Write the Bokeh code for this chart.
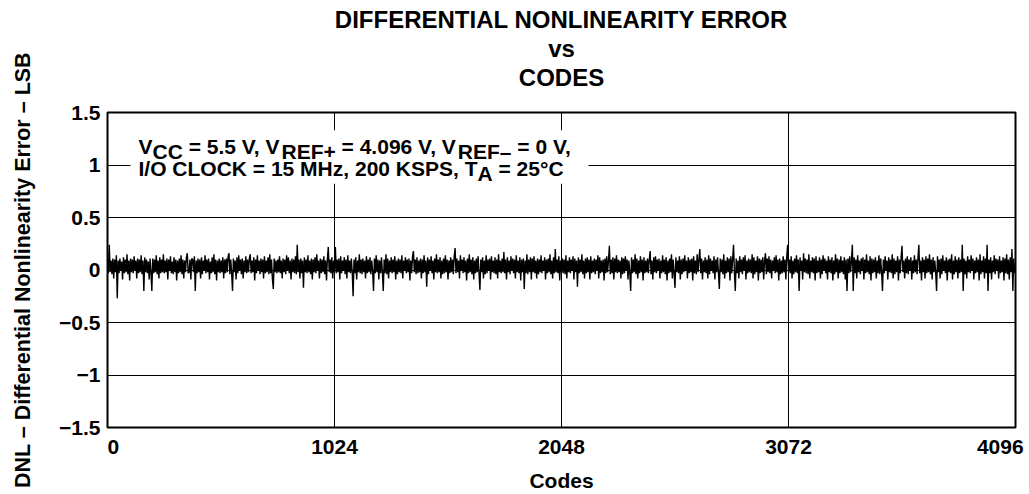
from bokeh.plotting import figure
from bokeh.models import FixedTicker, Label, BoxAnnotation, Range1d, Title
from bokeh.embed import file_html
from bokeh.resources import INLINE

# ---------------- data ----------------
TITLE_LINES = ["DIFFERENTIAL NONLINEARITY ERROR", "vs", "CODES"]
X_LABEL = "Codes"
Y_LABEL = "DNL \u2013 Differential Nonlinearity Error \u2013 LSB"
X_TICKS = [0, 1024, 2048, 3072, 4096]
X_TICK_LABELS = ["0", "1024", "2048", "3072", "4096"]
Y_TICKS = [-1.5, -1.0, -0.5, 0.0, 0.5, 1.0, 1.5]
Y_TICK_LABELS = ["\u22121.5", "\u22121", "\u22120.5", "0", "0.5", "1", "1.5"]
# annotation: (text, is_subscript)
NOTE_LINE_1 = [("V", 0), ("CC", 1), (" = 5.5 V, V", 0), ("REF+", 1),
               (" = 4.096 V, V", 0), ("REF\u2013", 1), (" = 0 V,", 0)]
NOTE_LINE_2 = [("I/O CLOCK = 15 MHz, 200 KSPS, T", 0), ("A", 1), (" = 25\u00b0C", 0)]

CODE_STEP = 4  # one plotted DNL sample every 4 codes
# DNL values in hundredths of an LSB, read/
DNL_CENTI_LSB = [
    10,-3,24,-2,9,-4,11,-8,10,-2,14,-27,9,-3,11,-1,8,-9,12,-3,10,-2,15,-4,9,-10,11,-2,10,-3,13,-1,
    9,-8,11,-3,10,-2,14,-4,9,-20,12,-2,10,-3,8,-9,11,-2,-20,11,-3,10,-2,14,-4,9,-8,12,-3,10,-2,15,
    -3,9,-2,11,-9,10,-1,13,-3,8,-4,12,-2,10,-10,9,-3,11,-2,14,-4,10,-8,9,-2,12,16,-3,-2,10,-9,11,
    10,-2,13,-20,9,-3,11,-2,10,-8,12,-4,9,-1,14,-3,10,-2,11,-9,8,-3,12,-2,15,-4,10,-10,9,-2,11,-3,
    9,-2,12,-8,10,-3,11,-2,13,16,-4,10,-3,-20,11,-2,9,-9,12,-3,14,-1,10,-4,11,-8,9,-2,13,-3,10,-2,
    11,15,-3,9,-2,12,-10,10,-3,14,-1,9,-4,11,-2,10,-8,13,-3,9,-2,12,-4,15,-3,10,-9,-18,11,-2,9,-3,
    10,-2,13,-3,9,-8,11,-2,10,-4,14,-1,12,-3,9,-9,11,-2,10,-3,13,-4,24,-2,10,-8,11,-3,9,-17,12,-2,
    10,-3,14,-2,9,-4,11,-9,10,-2,12,-3,15,-1,9,-8,11,-3,10,-2,13,-4,9,-10,11,22,-2,10,-3,12,-8,9,
    -2,22,-3,10,-2,11,-9,13,-3,9,-1,12,-4,10,-8,14,-2,9,-3,11,-2,-25,10,-3,12,-9,9,-2,15,-3,10,-4,
    11,-2,9,-8,13,-3,10,-2,12,-4,9,-1,-20,11,-3,14,-2,10,-9,9,-3,12,-2,-20,10,-3,15,-4,11,-8,9,-2,
    12,-3,10,-2,13,-9,9,-4,11,-2,10,-3,14,-8,9,-1,12,-3,10,-2,11,-10,9,-3,13,18,-2,10,-4,12,-3,9,
    -2,11,-8,10,-3,14,-2,9,-16,12,-4,10,-1,13,-3,9,-9,11,-2,15,-3,10,-2,12,-8,9,-4,11,-3,14,-2,10,
    -9,9,-3,12,-2,10,-4,13,21,-3,11,-2,9,-8,14,-1,10,-3,12,-2,9,-10,11,-3,15,-2,10,-4,12,-9,9,-3,
    11,-2,13,-3,-19,10,-2,12,-8,9,-4,14,-3,10,-1,11,-9,13,-2,9,-3,12,-4,10,-8,15,-2,9,-3,11,-2,17,
    -3,10,-9,12,-2,9,-4,13,-1,11,-3,10,-8,14,-2,9,-3,12,-10,10,-2,11,-18,9,-3,15,-4,10,-2,12,-9,11,
    -2,13,-3,9,-8,11,-4,10,-2,14,-3,9,-1,12,-9,10,-3,11,-2,15,-4,9,-8,12,-3,20,-2,10,-3,13,-10,9,
    -2,11,-3,10,-4,14,-8,9,-2,12,-3,10,-1,13,-9,11,-2,9,-16,12,-3,10,-2,15,-4,9,-8,11,-3,12,-2,10,
    -9,13,-3,9,-2,11,-4,10,-1,14,-8,12,-3,9,-2,10,-10,11,-3,13,-2,9,23,-4,10,-3,12,-9,11,-2,14,-3,
    10,-2,9,-8,12,-4,11,-3,13,-1,10,-9,9,-2,-20,12,-3,10,-2,15,-4,11,-8,9,-3,13,-2,10,-10,12,-3,9,
    -2,11,-3,10,18,-4,9,-9,12,-2,13,-3,10,-1,11,-8,9,-3,14,-2,10,-4,12,-10,9,-3,11,-2,15,-8,10,-3,
    -17,12,-2,9,-3,13,-9,10,-4,11,-2,14,-1,9,-8,12,-3,10,-2,11,-10,13,-3,9,-4,15,-2,10,20,-3,11,-9,
    9,-2,12,-3,10,-8,14,-4,11,-1,9,-3,13,-9,10,-2,12,-3,-18,11,-2,10,-4,15,-8,9,-3,12,-2,11,-10,13,
    -3,10,24,-2,-20,11,-3,9,-8,13,-2,10,-4,12,-1,14,-9,9,-3,11,-2,10,-3,15,-8,12,-4,9,-2,13,-10,11,
    -3,10,-2,12,-9,9,16,-4,11,-2,13,-3,10,-8,9,-1,12,-3,14,-2,10,-10,11,-4,9,-3,13,-2,10,-9,12,24,
    -2,10,-3,13,-8,9,-4,11,-2,14,-3,10,-20,12,-1,9,-9,16,-2,11,-3,10,-4,15,-8,9,-2,12,-3,11,-10,13,
    -3,9,-2,12,-8,10,-4,14,-1,11,-3,9,-9,13,-2,10,-3,12,-10,9,-4,15,-2,11,-8,10,-3,13,-2,9,-4,12,
    -9,10,-20,11,-3,13,-2,9,24,-20,12,-3,10,-8,14,-2,9,-4,11,-1,12,-9,10,-3,15,-2,9,-4,13,-10,11,-3,
    10,-2,12,-8,9,-3,14,-4,11,-2,-20,10,-3,13,-1,9,-9,12,-2,10,-3,15,-8,11,-4,9,-2,13,-10,10,-3,12,
    23,-2,9,-8,11,-3,13,-4,10,-1,12,-9,9,-3,14,-2,10,-4,11,24,-3,9,-10,12,-2,10,-8,13,-3,11,-2,15,
    -4,10,-9,12,-2,9,-3,-20,13,-2,10,-8,11,-4,14,-1,9,-3,12,-10,10,-2,11,-3,15,-9,9,-4,13,-2,10,-8,
    12,-3,10,-2,24,-20,11,-4,9,-8,13,-2,10,-3,14,-1,11,-9,9,-3,12,-2,10,-10,15,-4,9,-2,13,-8,11,-3,
    24,-20,10,-3,12,-9,9,-2,14,-4,11,-1,10,-8,13,-3,9,-2,12,-10,11,-3,15,-4,10,-9,12,-2,20,-20,11,-3,
]

codes = [i * CODE_STEP for i in range(len(DNL_CENTI_LSB))]
dnl = [v / 100.0 for v in DNL_CENTI_LSB]

# ---------------- layout (canvas pixels) ----------------
W, H = 1029, 494
FRAME_L, FRAME_R, FRAME_T, FRAME_B = 107, 1015, 112, 430
FONT = "Liberation Sans"
TICK_FS = 21
YLAB_FS = 21.5
XLAB_FS = 21
NOTE_FS = 21
TITLE_FS = 24
NBSP = "\u00a0"

X0, X1 = X_TICKS[0], X_TICKS[-1]
Y0, Y1 = Y_TICKS[0], Y_TICKS[-1]
PX_X = (FRAME_R - FRAME_L) / (X1 - X0)
PX_Y = (FRAME_B - FRAME_T) / (Y1 - Y0)


def px_to_x(px):
    return X0 + (px - FRAME_L) / PX_X


def px_to_y(py):
    return Y1 - (py - FRAME_T) / PX_Y


p = figure(width=W, height=H, output_backend="svg", toolbar_location=None,
           x_range=Range1d(X0, X1), y_range=Range1d(Y0, Y1),
           min_border_left=FRAME_L, min_border_right=W - FRAME_R,
           min_border_top=FRAME_T, min_border_bottom=H - FRAME_B)
p.background_fill_color = "white"
p.border_fill_color = "white"
p.outline_line_color = "black"
p.outline_line_width = 2

# title: an invisible spacer next to the frame, then the three lines outward
p.add_layout(Title(text=NBSP, text_font_size="1px", standoff=19), "above")
for txt in reversed(TITLE_LINES):
    p.add_layout(Title(text=txt, align="center", standoff=0,
                       text_font=FONT, text_font_style="bold",
                       text_font_size=f"{TITLE_FS}px", text_color="black"), "above")

# grids
p.xgrid.ticker = FixedTicker(ticks=X_TICKS)
p.ygrid.ticker = FixedTicker(ticks=Y_TICKS)
for g in (p.xgrid, p.ygrid):
    g.grid_line_color = "black"
    g.grid_line_width = 1
    g.grid_line_alpha = 1.0

# data line
p.line(codes, dnl, line_color="black", line_width=1.4)

# y axis
ya = p.yaxis[0]
ya.ticker = FixedTicker(ticks=Y_TICKS)
ya.major_label_overrides = {t: l for t, l in zip(Y_TICKS, Y_TICK_LABELS)}
ya.axis_label = Y_LABEL
ya.axis_label_standoff = 21
ya.axis_label_text_font_size = f"{YLAB_FS}px"

# x axis (end labels nudged inward, as in the reference)
xa = p.xaxis[0]
xa.ticker = FixedTicker(ticks=X_TICKS)
xlabels = list(X_TICK_LABELS)
xlabels[0] = NBSP * 2 + xlabels[0]
xlabels[-1] = xlabels[-1] + NBSP
xa.major_label_overrides = {t: l for t, l in zip(X_TICKS, xlabels)}
xa.axis_label = X_LABEL
xa.axis_label_standoff = 8
xa.axis_label_text_font_size = f"{XLAB_FS}px"

for ax in (ya, xa):
    ax.axis_line_color = None
    ax.major_tick_line_color = None
    ax.minor_tick_line_color = None
    ax.major_tick_out = 0
    ax.major_tick_in = 0
    ax.major_label_standoff = 7
    ax.major_label_text_font = FONT
    ax.major_label_text_font_style = "bold"
    ax.major_label_text_font_size = f"{TICK_FS}px"
    ax.major_label_text_color = "black"
    ax.axis_label_text_font = FONT
    ax.axis_label_text_font_style = "bold"
    ax.axis_label_text_color = "black"

# conditions note with white box
p.add_layout(BoxAnnotation(left=px_to_x(130), right=px_to_x(588), top=px_to_y(130),
                           bottom=px_to_y(184), fill_color="white", fill_alpha=1.0,
                           line_color=None))

ARIAL_BOLD = {" ": 278, ",": 278, ".": 278, "/": 278, "=": 584, "+": 584, "\u2013": 556,
              "\u00b0": 400, "A": 722, "C": 722, "E": 667, "F": 611, "H": 722, "I": 278,
              "K": 722, "L": 611, "M": 833, "O": 778, "P": 667, "R": 722, "S": 667,
              "T": 611, "V": 667, "z": 500}


def text_w(s, fs):
    return sum(ARIAL_BOLD.get(c, 556) for c in s) * fs / 1000.0


def note_line(parts, x_start, base, sub_base):
    x = x_start
    for txt, sub in parts:
        stripped = txt.lstrip(" ")
        lead = text_w(txt[: len(txt) - len(stripped)], NOTE_FS)
        p.add_layout(Label(x=px_to_x(x + lead), y=px_to_y(sub_base if sub else base),
                           text=stripped, text_align="left", text_baseline="alphabetic",
                           text_font=FONT, text_font_style="bold",
                           text_font_size=f"{NOTE_FS}px", text_color="black"))
        x += text_w(txt, NOTE_FS)


note_line(NOTE_LINE_1, 138, 146, 151)
note_line(NOTE_LINE_2, 138, 169, 174)

open("out.html", "w").write(file_html(p, INLINE))
